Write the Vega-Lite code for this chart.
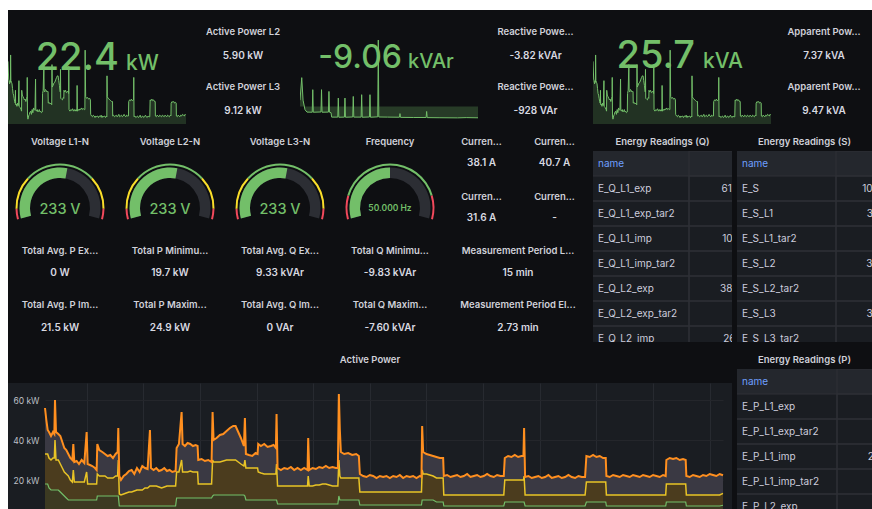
{
"$schema": "https://vega.github.io/schema/vega-lite/v6.json",
"background": "#0e0f12",
"padding": 0,
"spacing": 0,
"config": {
  "view": {"fill": "#1a1d22", "stroke": null, "cornerRadius": 0},
  "title": {"font": "Inter", "fontSize": 9.5, "fontWeight": 600, "color": "#d0d1d9", "anchor": "middle", "frame": "group", "offset": -17, "baseline": "middle"},
  "text": {"font": "Inter", "color": "#d8d9e0"},
  "axis": {"labelFont": "Inter"}
},
"datasets": {
  "active": [
{"t":0,"L1":18,"L12":33,"Total":56},{"t":4,"L1":18,"L12":33,"Total":50},{"t":8,"L1":18,"L12":33,"Total":45},{"t":12,"L1":16,"L12":31,"Total":44},{"t":18,"L1":15,"L12":30,"Total":42},{"t":24,"L1":15,"L12":31,"Total":44},{"t":28,"L1":15,"L12":31,"Total":43},{"t":30,"L1":15,"L12":40,"Total":60},{"t":33,"L1":15,"L12":30,"Total":44},{"t":40,"L1":15,"L12":30,"Total":43},{"t":46,"L1":14,"L12":28,"Total":42},{"t":52,"L1":13,"L12":26,"Total":39},{"t":58,"L1":12,"L12":24,"Total":36},{"t":64,"L1":11,"L12":23,"Total":35},{"t":70,"L1":10,"L12":22,"Total":33},{"t":76,"L1":10,"L12":20,"Total":31},{"t":82,"L1":10,"L12":19,"Total":30},{"t":85,"L1":10,"L12":25,"Total":38},{"t":88,"L1":10,"L12":19,"Total":29},{"t":95,"L1":10,"L12":19,"Total":29.5},{"t":102,"L1":10,"L12":19,"Total":28},{"t":110,"L1":10,"L12":19,"Total":30},{"t":118,"L1":10,"L12":19,"Total":28.5},{"t":125,"L1":10,"L12":24,"Total":44},{"t":128,"L1":10,"L12":18,"Total":28},{"t":135,"L1":10,"L12":18,"Total":27.5},{"t":142,"L1":10,"L12":18,"Total":27},{"t":150,"L1":10,"L12":18,"Total":26},{"t":155,"L1":10,"L12":18,"Total":25},
{"t":157,"L1":12,"L12":23,"Total":38},{"t":163,"L1":12,"L12":22,"Total":35},{"t":172,"L1":12,"L12":22,"Total":34},{"t":180,"L1":12,"L12":22,"Total":33},{"t":188,"L1":12,"L12":21,"Total":32},{"t":196,"L1":12,"L12":21,"Total":32.5},{"t":204,"L1":12,"L12":21,"Total":31},{"t":212,"L1":12,"L12":22,"Total":33},{"t":218,"L1":12,"L12":22,"Total":34},{"t":220,"L1":12,"L12":30,"Total":46},
{"t":223,"L1":7,"L12":13,"Total":22},{"t":228,"L1":7,"L12":12.5,"Total":20},{"t":236,"L1":7,"L12":13,"Total":22},{"t":244,"L1":7,"L12":13.5,"Total":23},{"t":252,"L1":7,"L12":14,"Total":24.5},{"t":260,"L1":7,"L12":14,"Total":25},{"t":268,"L1":7,"L12":14.5,"Total":23},{"t":276,"L1":7,"L12":15,"Total":26},{"t":284,"L1":7,"L12":15,"Total":24},{"t":292,"L1":7,"L12":15,"Total":27},{"t":300,"L1":7,"L12":16,"Total":26},{"t":308,"L1":7,"L12":16,"Total":25.5},{"t":315,"L1":7,"L12":17,"Total":45},{"t":318,"L1":7,"L12":17,"Total":26},{"t":326,"L1":7,"L12":17,"Total":25},{"t":334,"L1":7,"L12":17,"Total":26},{"t":342,"L1":7,"L12":16.5,"Total":24.5},{"t":350,"L1":7,"L12":16,"Total":25},{"t":358,"L1":7,"L12":16.5,"Total":26},{"t":366,"L1":7,"L12":17,"Total":24.5},{"t":374,"L1":7,"L12":17,"Total":25},{"t":382,"L1":7,"L12":17,"Total":24},{"t":392,"L1":7,"L12":17,"Total":24.5},
{"t":395,"L1":11,"L12":24,"Total":36},{"t":402,"L1":11,"L12":24,"Total":38},{"t":410,"L1":11,"L12":30,"Total":54},{"t":413,"L1":11,"L12":24,"Total":38},{"t":420,"L1":11,"L12":24,"Total":37},{"t":428,"L1":11,"L12":24,"Total":38.5},{"t":436,"L1":11,"L12":24.5,"Total":38},{"t":444,"L1":11,"L12":24,"Total":37},{"t":452,"L1":11,"L12":24,"Total":37.5},{"t":458,"L1":11,"L12":24,"Total":37},
{"t":460,"L1":11,"L12":18,"Total":30},{"t":470,"L1":11,"L12":18,"Total":30.5},{"t":480,"L1":11,"L12":18,"Total":29.5},{"t":490,"L1":11,"L12":18,"Total":30},{"t":500,"L1":11,"L12":18,"Total":29},{"t":503,"L1":12,"L12":30,"Total":54},
{"t":506,"L1":12.5,"L12":29,"Total":40},{"t":515,"L1":12.5,"L12":29,"Total":41},{"t":525,"L1":12.5,"L12":29,"Total":42.5},{"t":535,"L1":12.5,"L12":29.5,"Total":43},{"t":545,"L1":12.5,"L12":30,"Total":44.5},{"t":555,"L1":12.5,"L12":30,"Total":46},{"t":565,"L1":12.5,"L12":30,"Total":47},{"t":572,"L1":12.5,"L12":30,"Total":47},{"t":580,"L1":12.5,"L12":29,"Total":44},{"t":588,"L1":12.5,"L12":28,"Total":41},{"t":597,"L1":12.5,"L12":27,"Total":37},{"t":600,"L1":12,"L12":30,"Total":51},
{"t":603,"L1":10,"L12":26,"Total":33},{"t":612,"L1":10,"L12":26,"Total":32.5},{"t":622,"L1":10,"L12":26,"Total":32},{"t":632,"L1":10,"L12":26,"Total":33.5},{"t":638,"L1":10,"L12":26,"Total":33},
{"t":640,"L1":10,"L12":24,"Total":38},{"t":648,"L1":10,"L12":23.5,"Total":37},{"t":658,"L1":10,"L12":23,"Total":38},{"t":668,"L1":10,"L12":23,"Total":36.5},{"t":678,"L1":10,"L12":23,"Total":37},{"t":686,"L1":10,"L12":23,"Total":37.5},{"t":693,"L1":10,"L12":23,"Total":36},{"t":695,"L1":10,"L12":28,"Total":53},
{"t":698,"L1":8,"L12":17,"Total":26},{"t":708,"L1":8,"L12":17,"Total":25},{"t":718,"L1":8,"L12":17,"Total":26},{"t":728,"L1":8,"L12":17,"Total":25.5},{"t":738,"L1":8,"L12":17,"Total":26.5},{"t":748,"L1":8,"L12":17,"Total":25},{"t":758,"L1":8,"L12":17,"Total":26},{"t":768,"L1":8,"L12":17,"Total":25},{"t":778,"L1":8,"L12":17,"Total":26},{"t":788,"L1":8,"L12":17,"Total":25},{"t":790,"L1":8,"L12":22,"Total":41},{"t":793,"L1":8,"L12":17,"Total":25},{"t":803,"L1":8,"L12":17,"Total":26},{"t":813,"L1":8,"L12":17.5,"Total":25.5},{"t":823,"L1":8,"L12":17.5,"Total":26.5},{"t":833,"L1":8,"L12":18,"Total":26},{"t":843,"L1":8,"L12":18,"Total":27},{"t":853,"L1":8,"L12":17.5,"Total":26},{"t":863,"L1":8,"L12":17,"Total":26.5},{"t":873,"L1":8,"L12":17,"Total":26},{"t":879,"L1":8,"L12":17,"Total":26},
{"t":882,"L1":12,"L12":30,"Total":63},{"t":885,"L1":10,"L12":22,"Total":45},{"t":888,"L1":10,"L12":21,"Total":34},{"t":898,"L1":10,"L12":21,"Total":33},{"t":910,"L1":10,"L12":21,"Total":33.5},{"t":922,"L1":10,"L12":21,"Total":32.5},{"t":934,"L1":10,"L12":21,"Total":33},{"t":942,"L1":10,"L12":21,"Total":32},
{"t":945,"L1":7.5,"L12":14,"Total":23},{"t":955,"L1":7.5,"L12":14,"Total":22},{"t":965,"L1":7.5,"L12":14,"Total":21.5},{"t":975,"L1":7.5,"L12":14,"Total":22.5},{"t":985,"L1":7.5,"L12":14,"Total":22},{"t":995,"L1":7.5,"L12":14,"Total":21},{"t":1005,"L1":7.5,"L12":14,"Total":22},{"t":1015,"L1":7.5,"L12":14,"Total":21.5},{"t":1025,"L1":7.5,"L12":14,"Total":22},{"t":1035,"L1":7.5,"L12":14,"Total":21},{"t":1045,"L1":7.5,"L12":14,"Total":22},{"t":1055,"L1":7.5,"L12":14,"Total":21.5},{"t":1065,"L1":7.5,"L12":14,"Total":22.5},{"t":1075,"L1":7.5,"L12":14,"Total":21},{"t":1085,"L1":7.5,"L12":14,"Total":22},{"t":1095,"L1":7.5,"L12":14,"Total":21.5},{"t":1105,"L1":7.5,"L12":14,"Total":22},{"t":1115,"L1":7.5,"L12":14,"Total":21},{"t":1125,"L1":7.5,"L12":14,"Total":22},{"t":1130,"L1":7.5,"L12":14,"Total":21.5},
{"t":1132,"L1":10,"L12":25,"Total":47},{"t":1135,"L1":10,"L12":23,"Total":34},{"t":1145,"L1":10,"L12":23,"Total":33},{"t":1155,"L1":10,"L12":22.5,"Total":32.5},{"t":1165,"L1":10,"L12":22,"Total":32},{"t":1175,"L1":9,"L12":21,"Total":31.5},{"t":1185,"L1":9,"L12":21,"Total":31},{"t":1195,"L1":9,"L12":21,"Total":31},
{"t":1197,"L1":7,"L12":12.5,"Total":22},{"t":1207,"L1":7,"L12":12.5,"Total":22.5},{"t":1217,"L1":7,"L12":12.5,"Total":21.5},{"t":1227,"L1":7,"L12":12.5,"Total":22},{"t":1237,"L1":7,"L12":12.5,"Total":22.5},{"t":1247,"L1":7,"L12":12.5,"Total":21.5},{"t":1257,"L1":7,"L12":12.5,"Total":22},{"t":1267,"L1":7,"L12":12.5,"Total":23},{"t":1277,"L1":7,"L12":12.5,"Total":21.5},{"t":1287,"L1":7,"L12":12.5,"Total":22},{"t":1297,"L1":7,"L12":12.5,"Total":22.5},{"t":1307,"L1":7,"L12":12.5,"Total":21.5},{"t":1317,"L1":7,"L12":12.5,"Total":22},{"t":1327,"L1":7,"L12":12.5,"Total":23},{"t":1337,"L1":7,"L12":12.5,"Total":22},{"t":1347,"L1":7,"L12":12.5,"Total":21.5},{"t":1357,"L1":7,"L12":12.5,"Total":22.5},{"t":1367,"L1":7,"L12":12.5,"Total":22},{"t":1377,"L1":7,"L12":12.5,"Total":22},
{"t":1380,"L1":9,"L12":20,"Total":31},{"t":1390,"L1":9,"L12":20,"Total":32},{"t":1400,"L1":9,"L12":20,"Total":31.5},{"t":1410,"L1":9,"L12":20,"Total":32.5},{"t":1420,"L1":9,"L12":20,"Total":31.5},{"t":1430,"L1":9,"L12":20,"Total":32},{"t":1436,"L1":9,"L12":20,"Total":32},{"t":1438,"L1":9,"L12":22,"Total":46},
{"t":1441,"L1":7,"L12":12.5,"Total":21.5},{"t":1451,"L1":7,"L12":12.5,"Total":22},{"t":1461,"L1":7,"L12":12.5,"Total":21},{"t":1471,"L1":7,"L12":12.5,"Total":21.5},{"t":1481,"L1":7,"L12":12.5,"Total":22},{"t":1491,"L1":7,"L12":12.5,"Total":21},{"t":1501,"L1":7,"L12":12.5,"Total":21.5},{"t":1511,"L1":7,"L12":12.5,"Total":22.5},{"t":1521,"L1":7,"L12":12.5,"Total":21},{"t":1531,"L1":7,"L12":12.5,"Total":21.5},{"t":1541,"L1":7,"L12":12.5,"Total":22},{"t":1551,"L1":7,"L12":12.5,"Total":21},{"t":1561,"L1":7,"L12":12.5,"Total":21.5},{"t":1571,"L1":7,"L12":12.5,"Total":22.5},{"t":1581,"L1":7,"L12":12.5,"Total":21.5},{"t":1591,"L1":7,"L12":12.5,"Total":21},{"t":1601,"L1":7,"L12":12.5,"Total":22},{"t":1611,"L1":7,"L12":12.5,"Total":21.5},{"t":1621,"L1":7,"L12":12.5,"Total":21.5},
{"t":1625,"L1":9,"L12":19,"Total":32},{"t":1635,"L1":9,"L12":19,"Total":31.5},{"t":1645,"L1":9,"L12":19,"Total":32.5},{"t":1655,"L1":9,"L12":19,"Total":31.5},{"t":1665,"L1":9,"L12":19,"Total":32},{"t":1675,"L1":9,"L12":19,"Total":31},{"t":1683,"L1":9,"L12":19,"Total":31},
{"t":1685,"L1":7,"L12":12.5,"Total":22},{"t":1695,"L1":7,"L12":12.5,"Total":21.5},{"t":1705,"L1":7,"L12":12.5,"Total":22.5},{"t":1715,"L1":7,"L12":12.5,"Total":22},{"t":1725,"L1":7,"L12":12.5,"Total":21.5},{"t":1735,"L1":7,"L12":12.5,"Total":22.5},{"t":1745,"L1":7,"L12":12.5,"Total":22},{"t":1755,"L1":7,"L12":12.5,"Total":21.5},{"t":1765,"L1":7,"L12":12.5,"Total":22.5},{"t":1775,"L1":7,"L12":12.5,"Total":22},{"t":1785,"L1":7,"L12":12.5,"Total":21.5},{"t":1795,"L1":7,"L12":12.5,"Total":22.5},{"t":1805,"L1":7,"L12":12.5,"Total":22},{"t":1815,"L1":7,"L12":12.5,"Total":21.5},{"t":1825,"L1":7,"L12":12.5,"Total":22.5},{"t":1835,"L1":7,"L12":12.5,"Total":22},{"t":1845,"L1":7,"L12":12.5,"Total":21.5},{"t":1855,"L1":7,"L12":12.5,"Total":22.5},{"t":1863,"L1":7,"L12":12.5,"Total":22},
{"t":1865,"L1":9,"L12":18,"Total":30},{"t":1875,"L1":9,"L12":18,"Total":31},{"t":1885,"L1":9,"L12":18,"Total":30.5},{"t":1895,"L1":9,"L12":18,"Total":31},{"t":1905,"L1":9,"L12":18,"Total":30},{"t":1915,"L1":9,"L12":18,"Total":30.5},{"t":1923,"L1":9,"L12":18,"Total":30},
{"t":1925,"L1":7,"L12":12.5,"Total":22},{"t":1935,"L1":7,"L12":12.5,"Total":21.5},{"t":1945,"L1":7,"L12":12.5,"Total":22.5},{"t":1955,"L1":7,"L12":12.5,"Total":22},{"t":1965,"L1":7,"L12":12.5,"Total":21.5},{"t":1975,"L1":7,"L12":12.5,"Total":22.5},{"t":1985,"L1":7,"L12":12.5,"Total":22},{"t":1995,"L1":7,"L12":12.5,"Total":23},{"t":2005,"L1":7,"L12":12.5,"Total":22.5},{"t":2015,"L1":7,"L12":12.5,"Total":22},{"t":2025,"L1":7,"L12":12.5,"Total":23},{"t":2035,"L1":7.38,"L12":13.28,"Total":22.4}
  ],
  "reactive": [
{"t":0,"q":5},{"t":20,"q":23},{"t":35,"q":5},{"t":57,"q":-2.6},{"t":80,"q":-4.5},{"t":140,"q":-4.6},{"t":146,"q":13.4},{"t":152,"q":-4.6},{"t":240,"q":-4.4},{"t":246,"q":13.4},{"t":252,"q":-4.6},{"t":325,"q":-4.5},{"t":331,"q":12},{"t":337,"q":-4.6},{"t":355,"q":-5},{"t":362,"q":-8.5},{"t":432,"q":-8.5},{"t":438,"q":6.7},{"t":444,"q":-8.6},{"t":508,"q":-8.5},{"t":514,"q":6.7},{"t":520,"q":-8.6},{"t":603,"q":-8.4},{"t":609,"q":8},{"t":615,"q":-8.5},{"t":699,"q":-8.5},{"t":705,"q":9.4},{"t":711,"q":-8.6},{"t":794,"q":-8.4},{"t":800,"q":9.4},{"t":806,"q":-8.6},{"t":889,"q":-8.3},{"t":895,"q":53},{"t":901,"q":-8.4},{"t":1000,"q":-8.5},{"t":1137,"q":-8.6},{"t":1143,"q":-5.7},{"t":1149,"q":-8.7},{"t":1300,"q":-8.8},{"t":1442,"q":-8.8},{"t":1448,"q":-4},{"t":1454,"q":-8.9},{"t":1600,"q":-9},{"t":1800,"q":-9.1},{"t":1900,"q":-8.9},{"t":2035,"q":-9.06}
  ]
},
"vconcat": [
  {"width": 872, "height": 10, "view": {"fill": "#ffffff", "stroke": null}, "data": {"values": []}, "mark": "text", "encoding": {}},
  {"spacing": 0, "hconcat": [
    {"width": 8, "height": 499, "view": {"fill": "#ffffff", "stroke": null}, "data": {"values": []}, "mark": "text", "encoding": {}},
    {"spacing": 5, "vconcat": [
      {"spacing": 5, "hconcat": [
        {"width": 178, "height": 114, "layer": [
          {"data": {"name": "active"},
           "encoding": {
             "x": {"field": "t", "type": "quantitative", "scale": {"domain": [0, 2035], "nice": false, "zero": false}, "axis": null},
             "y": {"field": "Total", "type": "quantitative", "scale": {"domain": [17, 88], "nice": false, "zero": false}, "axis": null}},
           "layer": [
             {"mark": {"type": "area", "color": "#73BF69", "fillOpacity": 0.2, "clip": true}},
             {"mark": {"type": "line", "color": "#73BF69", "strokeWidth": 1, "clip": true}}
           ]},
          {"data": {"values": [{"name": "Active Power", "value": "22.4", "unit": "kW"}]},
           "layer": [
             {"mark": {"type": "text", "align": "right", "baseline": "alphabetic", "dx": 22, "dy": 3, "fontSize": 38, "fontWeight": 500, "color": "#73BF69"}, "encoding": {"text": {"field": "value", "type": "nominal"}}},
             {"mark": {"type": "text", "align": "left", "baseline": "alphabetic", "dx": 29, "dy": 3, "fontSize": 21, "fontWeight": 500, "color": "#73BF69"}, "encoding": {"text": {"field": "unit", "type": "nominal"}}}
           ]}
        ]},
        {"spacing": 5, "vconcat": [
          {"width": 104, "height": 4, "data": {"values": []}, "mark": "text", "encoding": {}},
          {"width": 104, "height": 50, "title": "Active Power L2", "data": {"values": [{"name": "Active Power L2", "value": "5.90 kW"}]}, "mark": {"type": "text", "dy": 12, "fontSize": 10, "fontWeight": 600}, "encoding": {"text": {"field": "value", "type": "nominal"}}},
          {"width": 104, "height": 50, "title": "Active Power L3", "data": {"values": [{"name": "Active Power L3", "value": "9.12 kW"}]}, "mark": {"type": "text", "dy": 12, "fontSize": 10, "fontWeight": 600}, "encoding": {"text": {"field": "value", "type": "nominal"}}}
        ]},
        {"width": 178, "height": 114, "layer": [
          {"data": {"name": "reactive"},
           "encoding": {
             "x": {"field": "t", "type": "quantitative", "scale": {"domain": [0, 2035], "nice": false, "zero": false}, "axis": null},
             "y": {"field": "q", "type": "quantitative", "scale": {"domain": [-14, 77], "nice": false, "zero": false}, "axis": null}},
           "layer": [
             {"mark": {"type": "area", "color": "#73BF69", "fillOpacity": 0.25, "clip": true}, "encoding": {"y2": {"datum": 0}}},
             {"mark": {"type": "line", "color": "#73BF69", "strokeWidth": 1, "clip": true}}
           ]},
          {"data": {"values": [{"name": "Reactive Power", "value": "-9.06", "unit": "kVAr"}]},
           "layer": [
             {"mark": {"type": "text", "align": "right", "baseline": "alphabetic", "dx": 13, "dy": 1, "fontSize": 32, "fontWeight": 500, "color": "#73BF69"}, "encoding": {"text": {"field": "value", "type": "nominal"}}},
             {"mark": {"type": "text", "align": "left", "baseline": "alphabetic", "dx": 19, "dy": 1, "fontSize": 20, "fontWeight": 500, "color": "#73BF69"}, "encoding": {"text": {"field": "unit", "type": "nominal"}}}
           ]}
        ]},
        {"spacing": 5, "vconcat": [
          {"width": 105, "height": 4, "data": {"values": []}, "mark": "text", "encoding": {}},
          {"width": 105, "height": 50, "title": "Reactive Powe...", "data": {"values": [{"name": "Reactive Power L2", "value": "-3.82 kVAr"}]}, "mark": {"type": "text", "dy": 12, "fontSize": 10, "fontWeight": 600}, "encoding": {"text": {"field": "value", "type": "nominal"}}},
          {"width": 105, "height": 50, "title": "Reactive Powe...", "data": {"values": [{"name": "Reactive Power L3", "value": "-928 VAr"}]}, "mark": {"type": "text", "dy": 12, "fontSize": 10, "fontWeight": 600}, "encoding": {"text": {"field": "value", "type": "nominal"}}}
        ]},
        {"width": 178, "height": 114, "layer": [
          {"data": {"name": "active"},
           "encoding": {
             "x": {"field": "t", "type": "quantitative", "scale": {"domain": [0, 2035], "nice": false, "zero": false}, "axis": null},
             "y": {"field": "Total", "type": "quantitative", "scale": {"domain": [17, 88], "nice": false, "zero": false}, "axis": null}},
           "layer": [
             {"mark": {"type": "area", "color": "#73BF69", "fillOpacity": 0.2, "clip": true}},
             {"mark": {"type": "line", "color": "#73BF69", "strokeWidth": 1, "clip": true}}
           ]},
          {"data": {"values": [{"name": "Apparent Power", "value": "25.7", "unit": "kVA"}]},
           "layer": [
             {"mark": {"type": "text", "align": "right", "baseline": "alphabetic", "dx": 13, "dy": 1, "fontSize": 38, "fontWeight": 500, "color": "#73BF69"}, "encoding": {"text": {"field": "value", "type": "nominal"}}},
             {"mark": {"type": "text", "align": "left", "baseline": "alphabetic", "dx": 21, "dy": 1, "fontSize": 21, "fontWeight": 500, "color": "#73BF69"}, "encoding": {"text": {"field": "unit", "type": "nominal"}}}
           ]}
        ]},
        {"spacing": 5, "vconcat": [
          {"width": 96, "height": 4, "data": {"values": []}, "mark": "text", "encoding": {}},
          {"width": 96, "height": 50, "title": "Apparent Pow...", "data": {"values": [{"name": "Apparent Power L2", "value": "7.37 kVA"}]}, "mark": {"type": "text", "dy": 12, "fontSize": 10, "fontWeight": 600}, "encoding": {"text": {"field": "value", "type": "nominal"}}},
          {"width": 96, "height": 50, "title": "Apparent Pow...", "data": {"values": [{"name": "Apparent Power L3", "value": "9.47 kVA"}]}, "mark": {"type": "text", "dy": 12, "fontSize": 10, "fontWeight": 600}, "encoding": {"text": {"field": "value", "type": "nominal"}}}
        ]}
      ]},
      {"spacing": 5, "hconcat": [
        {"spacing": 5, "vconcat": [
          {"spacing": 5, "hconcat": [
            {"spacing": 5, "vconcat": [
              {"spacing": 6, "hconcat": [
                {"width": 104, "height": 104, "title": "Voltage L1-N", "layer": [
                  {"data": {"values": [{"from": 200, "to": 204, "state": "critical"}, {"from": 204, "to": 216.5, "state": "warning"}, {"from": 216.5, "to": 243.5, "state": "ok"}, {"from": 243.5, "to": 256, "state": "warning"}, {"from": 256, "to": 260, "state": "critical"}]},
                   "mark": {"type": "arc", "radius": 44.5, "radius2": 42.5, "yOffset": 27},
                   "encoding": {"theta": {"field": "from", "type": "quantitative", "stack": null, "scale": {"domain": [200, 260], "range": [-1.833, 1.833]}}, "theta2": {"field": "to"},
                     "color": {"field": "state", "type": "nominal", "scale": {"domain": ["critical", "warning", "ok"], "range": ["#F2495C", "#FADE2A", "#73BF69"]}, "legend": null}}},
                  {"data": {"values": [{"name": "Voltage L1-N", "value": 233, "min": 200, "max": 260, "display": "233 V"}]}, "layer": [
                    {"mark": {"type": "arc", "radius": 40.5, "radius2": 30, "yOffset": 27, "color": "#2c2e34"}, "encoding": {"theta": {"field": "min", "type": "quantitative", "stack": null, "scale": {"domain": [200, 260], "range": [-1.833, 1.833]}}, "theta2": {"field": "max"}}},
                    {"mark": {"type": "arc", "radius": 40.5, "radius2": 30, "yOffset": 27, "color": "#73BF69"}, "encoding": {"theta": {"field": "min", "type": "quantitative", "stack": null, "scale": {"domain": [200, 260], "range": [-1.833, 1.833]}}, "theta2": {"field": "value"}}},
                    {"mark": {"type": "text", "dy": 29, "fontSize": 14.5, "fontWeight": 500, "color": "#73BF69"}, "encoding": {"text": {"field": "display", "type": "nominal"}}}
                  ]}
                ]},
                {"width": 104, "height": 104, "title": "Voltage L2-N", "layer": [
                  {"data": {"values": [{"from": 200, "to": 204, "state": "critical"}, {"from": 204, "to": 216.5, "state": "warning"}, {"from": 216.5, "to": 243.5, "state": "ok"}, {"from": 243.5, "to": 256, "state": "warning"}, {"from": 256, "to": 260, "state": "critical"}]},
                   "mark": {"type": "arc", "radius": 44.5, "radius2": 42.5, "yOffset": 27},
                   "encoding": {"theta": {"field": "from", "type": "quantitative", "stack": null, "scale": {"domain": [200, 260], "range": [-1.833, 1.833]}}, "theta2": {"field": "to"},
                     "color": {"field": "state", "type": "nominal", "scale": {"domain": ["critical", "warning", "ok"], "range": ["#F2495C", "#FADE2A", "#73BF69"]}, "legend": null}}},
                  {"data": {"values": [{"name": "Voltage L2-N", "value": 233, "min": 200, "max": 260, "display": "233 V"}]}, "layer": [
                    {"mark": {"type": "arc", "radius": 40.5, "radius2": 30, "yOffset": 27, "color": "#2c2e34"}, "encoding": {"theta": {"field": "min", "type": "quantitative", "stack": null, "scale": {"domain": [200, 260], "range": [-1.833, 1.833]}}, "theta2": {"field": "max"}}},
                    {"mark": {"type": "arc", "radius": 40.5, "radius2": 30, "yOffset": 27, "color": "#73BF69"}, "encoding": {"theta": {"field": "min", "type": "quantitative", "stack": null, "scale": {"domain": [200, 260], "range": [-1.833, 1.833]}}, "theta2": {"field": "value"}}},
                    {"mark": {"type": "text", "dy": 29, "fontSize": 14.5, "fontWeight": 500, "color": "#73BF69"}, "encoding": {"text": {"field": "display", "type": "nominal"}}}
                  ]}
                ]},
                {"width": 104, "height": 104, "title": "Voltage L3-N", "layer": [
                  {"data": {"values": [{"from": 200, "to": 204, "state": "critical"}, {"from": 204, "to": 216.5, "state": "warning"}, {"from": 216.5, "to": 243.5, "state": "ok"}, {"from": 243.5, "to": 256, "state": "warning"}, {"from": 256, "to": 260, "state": "critical"}]},
                   "mark": {"type": "arc", "radius": 44.5, "radius2": 42.5, "yOffset": 27},
                   "encoding": {"theta": {"field": "from", "type": "quantitative", "stack": null, "scale": {"domain": [200, 260], "range": [-1.833, 1.833]}}, "theta2": {"field": "to"},
                     "color": {"field": "state", "type": "nominal", "scale": {"domain": ["critical", "warning", "ok"], "range": ["#F2495C", "#FADE2A", "#73BF69"]}, "legend": null}}},
                  {"data": {"values": [{"name": "Voltage L3-N", "value": 233, "min": 200, "max": 260, "display": "233 V"}]}, "layer": [
                    {"mark": {"type": "arc", "radius": 40.5, "radius2": 30, "yOffset": 27, "color": "#2c2e34"}, "encoding": {"theta": {"field": "min", "type": "quantitative", "stack": null, "scale": {"domain": [200, 260], "range": [-1.833, 1.833]}}, "theta2": {"field": "max"}}},
                    {"mark": {"type": "arc", "radius": 40.5, "radius2": 30, "yOffset": 27, "color": "#73BF69"}, "encoding": {"theta": {"field": "min", "type": "quantitative", "stack": null, "scale": {"domain": [200, 260], "range": [-1.833, 1.833]}}, "theta2": {"field": "value"}}},
                    {"mark": {"type": "text", "dy": 29, "fontSize": 14.5, "fontWeight": 500, "color": "#73BF69"}, "encoding": {"text": {"field": "display", "type": "nominal"}}}
                  ]}
                ]},
                {"width": 104, "height": 104, "title": "Frequency", "layer": [
                  {"data": {"values": [{"from": 49, "to": 49.3, "state": "critical"}, {"from": 49.3, "to": 50.7, "state": "ok"}, {"from": 50.7, "to": 51, "state": "critical"}]},
                   "mark": {"type": "arc", "radius": 44.5, "radius2": 42.5, "yOffset": 27},
                   "encoding": {"theta": {"field": "from", "type": "quantitative", "stack": null, "scale": {"domain": [49, 51], "range": [-1.833, 1.833]}}, "theta2": {"field": "to"},
                     "color": {"field": "state", "type": "nominal", "scale": {"domain": ["critical", "warning", "ok"], "range": ["#F2495C", "#FADE2A", "#73BF69"]}, "legend": null}}},
                  {"data": {"values": [{"name": "Frequency", "value": 50, "min": 49, "max": 51, "display": "50.000 Hz"}]}, "layer": [
                    {"mark": {"type": "arc", "radius": 40.5, "radius2": 30, "yOffset": 27, "color": "#2c2e34"}, "encoding": {"theta": {"field": "min", "type": "quantitative", "stack": null, "scale": {"domain": [49, 51], "range": [-1.833, 1.833]}}, "theta2": {"field": "max"}}},
                    {"mark": {"type": "arc", "radius": 40.5, "radius2": 30, "yOffset": 27, "color": "#73BF69"}, "encoding": {"theta": {"field": "min", "type": "quantitative", "stack": null, "scale": {"domain": [49, 51], "range": [-1.833, 1.833]}}, "theta2": {"field": "value"}}},
                    {"mark": {"type": "text", "dy": 27, "fontSize": 8.5, "fontWeight": 600, "color": "#73BF69"}, "encoding": {"text": {"field": "display", "type": "nominal"}}}
                  ]}
                ]},
                {"spacing": 6, "hconcat": [
                  {"spacing": 5, "vconcat": [
                    {"width": 67, "height": 50, "title": "Curren...", "data": {"values": [{"name": "Current L1", "value": "38.1 A"}]}, "mark": {"type": "text", "dy": 9, "fontSize": 10, "fontWeight": 600}, "encoding": {"text": {"field": "value", "type": "nominal"}}},
                    {"width": 67, "height": 49, "title": "Curren...", "data": {"values": [{"name": "Current L3", "value": "31.6 A"}]}, "mark": {"type": "text", "dy": 9.5, "fontSize": 10, "fontWeight": 600}, "encoding": {"text": {"field": "value", "type": "nominal"}}}
                  ]},
                  {"spacing": 5, "vconcat": [
                    {"width": 67, "height": 50, "title": "Curren...", "data": {"values": [{"name": "Current L2", "value": "40.7 A"}]}, "mark": {"type": "text", "dy": 9, "fontSize": 10, "fontWeight": 600}, "encoding": {"text": {"field": "value", "type": "nominal"}}},
                    {"width": 67, "height": 49, "title": "Curren...", "data": {"values": [{"name": "Current N", "value": "-"}]}, "mark": {"type": "text", "dy": 9.5, "fontSize": 10, "fontWeight": 600}, "encoding": {"text": {"field": "value", "type": "nominal"}}}
                  ]}
                ]}
              ]},
              {"spacing": 6, "hconcat": [
                {"width": 104, "height": 49, "title": "Total Avg. P Ex...", "data": {"values": [{"name": "Total Avg. P Export", "value": "0 W"}]}, "mark": {"type": "text", "dy": 10.5, "fontSize": 10, "fontWeight": 600}, "encoding": {"text": {"field": "value", "type": "nominal"}}},
                {"width": 104, "height": 49, "title": "Total P Minimu...", "data": {"values": [{"name": "Total P Minimum", "value": "19.7 kW"}]}, "mark": {"type": "text", "dy": 10.5, "fontSize": 10, "fontWeight": 600}, "encoding": {"text": {"field": "value", "type": "nominal"}}},
                {"width": 104, "height": 49, "title": "Total Avg. Q Ex...", "data": {"values": [{"name": "Total Avg. Q Export", "value": "9.33 kVAr"}]}, "mark": {"type": "text", "dy": 10.5, "fontSize": 10, "fontWeight": 600}, "encoding": {"text": {"field": "value", "type": "nominal"}}},
                {"width": 104, "height": 49, "title": "Total Q Minimu...", "data": {"values": [{"name": "Total Q Minimum", "value": "-9.83 kVAr"}]}, "mark": {"type": "text", "dy": 10.5, "fontSize": 10, "fontWeight": 600}, "encoding": {"text": {"field": "value", "type": "nominal"}}},
                {"width": 140, "height": 49, "title": "Measurement Period L...", "data": {"values": [{"name": "Measurement Period Length", "value": "15 min"}]}, "mark": {"type": "text", "dy": 10.5, "fontSize": 10, "fontWeight": 600}, "encoding": {"text": {"field": "value", "type": "nominal"}}}
              ]},
              {"spacing": 6, "hconcat": [
                {"width": 104, "height": 50, "title": "Total Avg. P Im...", "data": {"values": [{"name": "Total Avg. P Import", "value": "21.5 kW"}]}, "mark": {"type": "text", "dy": 11, "fontSize": 10, "fontWeight": 600}, "encoding": {"text": {"field": "value", "type": "nominal"}}},
                {"width": 104, "height": 50, "title": "Total P Maxim...", "data": {"values": [{"name": "Total P Maximum", "value": "24.9 kW"}]}, "mark": {"type": "text", "dy": 11, "fontSize": 10, "fontWeight": 600}, "encoding": {"text": {"field": "value", "type": "nominal"}}},
                {"width": 104, "height": 50, "title": "Total Avg. Q Im...", "data": {"values": [{"name": "Total Avg. Q Import", "value": "0 VAr"}]}, "mark": {"type": "text", "dy": 11, "fontSize": 10, "fontWeight": 600}, "encoding": {"text": {"field": "value", "type": "nominal"}}},
                {"width": 104, "height": 50, "title": "Total Q Maxim...", "data": {"values": [{"name": "Total Q Maximum", "value": "-7.60 kVAr"}]}, "mark": {"type": "text", "dy": 11, "fontSize": 10, "fontWeight": 600}, "encoding": {"text": {"field": "value", "type": "nominal"}}},
                {"width": 140, "height": 50, "title": "Measurement Period El...", "data": {"values": [{"name": "Measurement Period Elapsed", "value": "2.73 min"}]}, "mark": {"type": "text", "dy": 11, "fontSize": 10, "fontWeight": 600}, "encoding": {"text": {"field": "value", "type": "nominal"}}}
              ]}
            ]},
            {"spacing": 0, "vconcat": [
              {"width": 139, "height": 22, "title": "Energy Readings (Q)", "data": {"values": []}, "mark": "text", "encoding": {}},
              {"width": 139, "height": 191, "layer": [
                {"data": {"values": [{"name": "name", "column": "name"}]}, "layer": [
                  {"mark": {"type": "rect", "color": "#24272d"}, "encoding": {"y": {"field": "name", "type": "nominal", "scale": {"domain": ["name", "E_Q_L1_exp", "E_Q_L1_exp_tar2", "E_Q_L1_imp", "E_Q_L1_imp_tar2", "E_Q_L2_exp", "E_Q_L2_exp_tar2", "E_Q_L2_imp", "E_Q_L2_imp_tar2"], "range": [0, 225], "paddingInner": 0, "paddingOuter": 0}, "axis": null}}},
                  {"mark": {"type": "rect", "filled": false, "color": "#2e3137", "strokeWidth": 1, "clip": true}, "encoding": {"y": {"field": "name", "type": "nominal"}, "x": {"datum": "value", "type": "nominal", "scale": {"domain": ["name", "value"], "range": [-2, 194], "paddingInner": 0, "paddingOuter": 0}, "axis": null}}},
                  {"mark": {"type": "text", "align": "left", "dx": -42, "fontSize": 10, "color": "#6E9FFF"}, "encoding": {"y": {"field": "name", "type": "nominal"}, "x": {"field": "column", "type": "nominal"}, "text": {"field": "column", "type": "nominal"}}}
                ]},
                {"data": {"values": [{"name": "E_Q_L1_exp", "value": "61.4 MVArh"}, {"name": "E_Q_L1_exp_tar2", "value": "0 VArh"}, {"name": "E_Q_L1_imp", "value": "10.3 MVArh"}, {"name": "E_Q_L1_imp_tar2", "value": "0 VArh"}, {"name": "E_Q_L2_exp", "value": "38.2 MVArh"}, {"name": "E_Q_L2_exp_tar2", "value": "0 VArh"}, {"name": "E_Q_L2_imp", "value": "26.1 MVArh"}]},
                 "encoding": {"y": {"field": "name", "type": "nominal"}},
                 "layer": [
                  {"mark": {"type": "rect", "filled": false, "color": "#2e3137", "strokeWidth": 1, "clip": true}, "encoding": {"x": {"datum": "name", "type": "nominal"}}},
                  {"mark": {"type": "rect", "filled": false, "color": "#2e3137", "strokeWidth": 1, "clip": true}, "encoding": {"x": {"datum": "value", "type": "nominal"}}},
                  {"mark": {"type": "text", "align": "left", "dx": -42, "fontSize": 10, "color": "#ccccdc", "clip": true}, "encoding": {"x": {"datum": "name", "type": "nominal"}, "text": {"field": "name", "type": "nominal"}}},
                  {"mark": {"type": "text", "align": "right", "dx": 38, "fontSize": 10, "color": "#ccccdc", "clip": true}, "encoding": {"x": {"datum": "value", "type": "nominal"}, "text": {"field": "value", "type": "nominal"}}}
                ]}
              ]}
            ]}
          ]},
          {"spacing": 0, "vconcat": [
            {"width": 724, "height": 36, "title": "Active Power", "data": {"values": []}, "mark": "text", "encoding": {}},
            {"width": 724, "height": 126, "data": {"name": "active"},
             "encoding": {
               "x": {"field": "t", "type": "quantitative", "scale": {"domain": [0, 2035], "range": [37, 715], "nice": false, "zero": false}, "axis": {"title": null, "labels": false, "ticks": false, "domain": false, "grid": true, "gridColor": "#272a30", "values": [125, 295, 465, 635, 805, 975, 1145, 1315, 1485, 1655, 1825, 1995]}}
             },
             "layer": [
               {"mark": {"type": "area", "clip": true, "color": "#3c3a22"}, "encoding": {"y": {"field": "L1", "type": "quantitative", "scale": {"domain": [5.5, 68.5], "nice": false, "zero": false}, "axis": {"title": null, "values": [20, 40, 60], "labelExpr": "datum.value + ' kW'", "offset": -37, "domain": false, "ticks": false, "grid": true, "gridColor": "#24262b", "labelColor": "#bfc0c7", "labelFontSize": 8.5, "labelPadding": 6}}}},
               {"mark": {"type": "area", "clip": true, "color": "#4b3c1e"}, "encoding": {"y": {"field": "L12", "type": "quantitative"}, "y2": {"field": "L1"}}},
               {"mark": {"type": "area", "clip": true, "color": "#3a3943"}, "encoding": {"y": {"field": "Total", "type": "quantitative"}, "y2": {"field": "L12"}}},
               {"mark": {"type": "line", "clip": true, "strokeWidth": 1.2, "color": "#73BF69"}, "encoding": {"y": {"field": "L1", "type": "quantitative"}}},
               {"mark": {"type": "line", "clip": true, "strokeWidth": 1.5, "color": "#E8C326"}, "encoding": {"y": {"field": "L12", "type": "quantitative"}}},
               {"mark": {"type": "line", "clip": true, "strokeWidth": 2, "color": "#FF8F1F"}, "encoding": {"y": {"field": "Total", "type": "quantitative"}}}
             ]}
          ]}
        ]},
        {"spacing": 5, "vconcat": [
          {"spacing": 0, "vconcat": [
            {"width": 135, "height": 22, "title": "Energy Readings (S)", "data": {"values": []}, "mark": "text", "encoding": {}},
            {"width": 135, "height": 191, "layer": [
              {"data": {"values": [{"name": "name", "column": "name"}]}, "layer": [
                {"mark": {"type": "rect", "color": "#24272d"}, "encoding": {"y": {"field": "name", "type": "nominal", "scale": {"domain": ["name", "E_S", "E_S_L1", "E_S_L1_tar2", "E_S_L2", "E_S_L2_tar2", "E_S_L3", "E_S_L3_tar2", "E_S_tar2"], "range": [0, 225], "paddingInner": 0, "paddingOuter": 0}, "axis": null}}},
                {"mark": {"type": "rect", "filled": false, "color": "#2e3137", "strokeWidth": 1, "clip": true}, "encoding": {"y": {"field": "name", "type": "nominal"}, "x": {"datum": "value", "type": "nominal", "scale": {"domain": ["name", "value"], "range": [-2, 200], "paddingInner": 0, "paddingOuter": 0}, "axis": null}}},
                {"mark": {"type": "text", "align": "left", "dx": -43.5, "fontSize": 10, "color": "#6E9FFF"}, "encoding": {"y": {"field": "name", "type": "nominal"}, "x": {"field": "column", "type": "nominal"}, "text": {"field": "column", "type": "nominal"}}}
              ]},
              {"data": {"values": [{"name": "E_S", "value": "108.2 MVAh"}, {"name": "E_S_L1", "value": "35.6 MVAh"}, {"name": "E_S_L1_tar2", "value": "0 VAh"}, {"name": "E_S_L2", "value": "36.4 MVAh"}, {"name": "E_S_L2_tar2", "value": "0 VAh"}, {"name": "E_S_L3", "value": "36.2 MVAh"}, {"name": "E_S_L3_tar2", "value": "0 VAh"}]},
               "encoding": {"y": {"field": "name", "type": "nominal"}},
               "layer": [
                {"mark": {"type": "rect", "filled": false, "color": "#2e3137", "strokeWidth": 1, "clip": true}, "encoding": {"x": {"datum": "name", "type": "nominal"}}},
                {"mark": {"type": "rect", "filled": false, "color": "#2e3137", "strokeWidth": 1, "clip": true}, "encoding": {"x": {"datum": "value", "type": "nominal"}}},
                {"mark": {"type": "text", "align": "left", "dx": -43.5, "fontSize": 10, "color": "#ccccdc", "clip": true}, "encoding": {"x": {"datum": "name", "type": "nominal"}, "text": {"field": "name", "type": "nominal"}}},
                {"mark": {"type": "text", "align": "right", "dx": 32, "fontSize": 10, "color": "#ccccdc", "clip": true}, "encoding": {"x": {"datum": "value", "type": "nominal"}, "text": {"field": "value", "type": "nominal"}}}
              ]}
            ]}
          ]},
          {"spacing": 0, "vconcat": [
            {"width": 135, "height": 22, "title": "Energy Readings (P)", "data": {"values": []}, "mark": "text", "encoding": {}},
            {"width": 135, "height": 140, "layer": [
              {"data": {"values": [{"name": "name", "column": "name"}]}, "layer": [
                {"mark": {"type": "rect", "color": "#24272d"}, "encoding": {"y": {"field": "name", "type": "nominal", "scale": {"domain": ["name", "E_P_L1_exp", "E_P_L1_exp_tar2", "E_P_L1_imp", "E_P_L1_imp_tar2", "E_P_L2_exp", "E_P_L2_exp_tar2", "E_P_L2_imp", "E_P_L2_imp_tar2"], "range": [0, 225], "paddingInner": 0, "paddingOuter": 0}, "axis": null}}},
                {"mark": {"type": "rect", "filled": false, "color": "#2e3137", "strokeWidth": 1, "clip": true}, "encoding": {"y": {"field": "name", "type": "nominal"}, "x": {"datum": "value", "type": "nominal", "scale": {"domain": ["name", "value"], "range": [-2, 202], "paddingInner": 0, "paddingOuter": 0}, "axis": null}}},
                {"mark": {"type": "text", "align": "left", "dx": -44, "fontSize": 10, "color": "#6E9FFF"}, "encoding": {"y": {"field": "name", "type": "nominal"}, "x": {"field": "column", "type": "nominal"}, "text": {"field": "column", "type": "nominal"}}}
              ]},
              {"data": {"values": [{"name": "E_P_L1_exp", "value": "0 Wh"}, {"name": "E_P_L1_exp_tar2", "value": "0 Wh"}, {"name": "E_P_L1_imp", "value": "27.9 MWh"}, {"name": "E_P_L1_imp_tar2", "value": "0 Wh"}, {"name": "E_P_L2_exp", "value": "0 Wh"}]},
               "encoding": {"y": {"field": "name", "type": "nominal"}},
               "layer": [
                {"mark": {"type": "rect", "filled": false, "color": "#2e3137", "strokeWidth": 1, "clip": true}, "encoding": {"x": {"datum": "name", "type": "nominal"}}},
                {"mark": {"type": "rect", "filled": false, "color": "#2e3137", "strokeWidth": 1, "clip": true}, "encoding": {"x": {"datum": "value", "type": "nominal"}}},
                {"mark": {"type": "text", "align": "left", "dx": -44, "fontSize": 10, "color": "#ccccdc", "clip": true}, "encoding": {"x": {"datum": "name", "type": "nominal"}, "text": {"field": "name", "type": "nominal"}}},
                {"mark": {"type": "text", "align": "right", "dx": 27, "fontSize": 10, "color": "#ccccdc", "clip": true}, "encoding": {"x": {"datum": "value", "type": "nominal"}, "text": {"field": "value", "type": "nominal"}}}
              ]}
            ]}
          ]}
        ]}
      ]}
    ]}
  ]}
]
}
